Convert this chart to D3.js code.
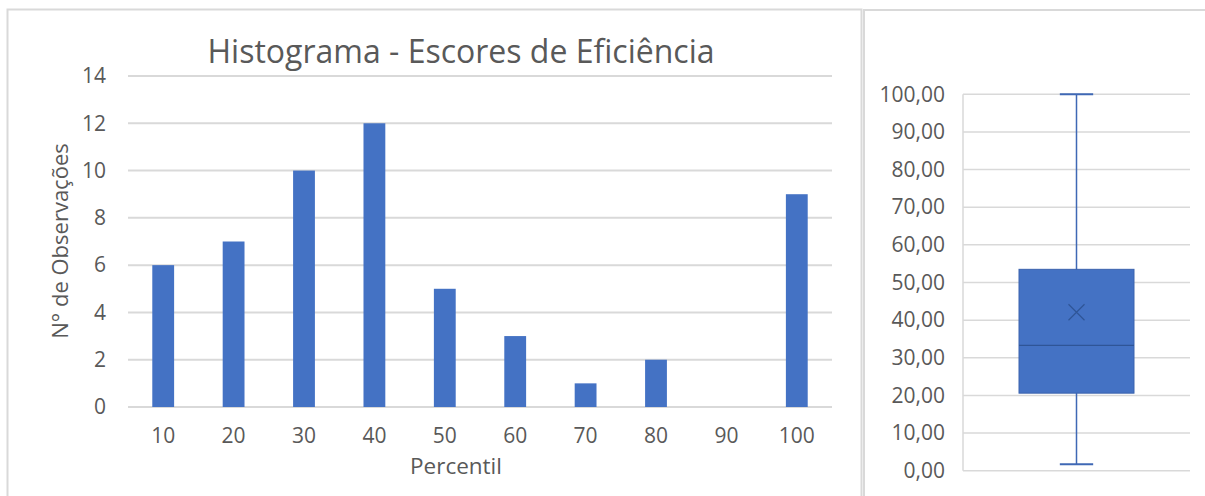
<!DOCTYPE html>
<html>
<head>
<meta charset="utf-8">
<script src="https://cdn.jsdelivr.net/npm/d3@7"></script>
<style>
	body { margin: 0; background: #fff; }
	text { font-family: "Open Sans", "Noto Sans", sans-serif; fill: #595959; }
</style>
</head>
<body>
<div id="chart"></div>
<script>
// Histogram data
const percentis = ["10", "20", "30", "40", "50", "60", "70", "80", "90", "100"];
const observacoes = [6, 7, 10, 12, 5, 3, 1, 2, 0, 9];
const histTicks = [0, 2, 4, 6, 8, 10, 12, 14];

// Box plot data (efficiency scores)
const boxCategory = ["Escores"];
const boxStats = [{ min: 1.7, q1: 20.6, median: 33.3, q3: 53.5, max: 100, mean: 42.1 }];
const boxTicks = [0, 10, 20, 30, 40, 50, 60, 70, 80, 90, 100];

const width = 1205;
const height = 496;
const blue = "#4472c4";
const grid = "#d9d9d9";

const svg = d3
	.select("#chart")
	.append("svg")
	.attr("width", width)
	.attr("height", height);

// Chart frames
svg
	.append("rect")
	.attr("x", 7.5)
	.attr("y", 9.5)
	.attr("width", 854)
	.attr("height", 520)
	.attr("fill", "none")
	.attr("stroke", grid)
	.attr("stroke-width", 2);

svg
	.append("rect")
	.attr("x", 864)
	.attr("y", 10)
	.attr("width", 400)
	.attr("height", 520)
	.attr("fill", "none")
	.attr("stroke", grid)
	.attr("stroke-width", 2);

// ---------- Histogram ----------
const x = d3
	.scaleBand()
	.domain(percentis)
	.range([128, 832])
	.paddingInner(0.69)
	.paddingOuter(0.345);

const y = d3.scaleLinear().domain([0, 14]).range([407, 76]);

const hist = svg.append("g");

hist
	.append("g")
	.selectAll("line")
	.data(histTicks)
	.enter()
	.append("line")
	.attr("x1", 128)
	.attr("x2", 832)
	.attr("y1", (d) => y(d))
	.attr("y2", (d) => y(d))
	.attr("stroke", grid)
	.attr("stroke-width", 2);

hist
	.append("g")
	.selectAll("rect")
	.data(observacoes)
	.enter()
	.append("rect")
	.attr("x", (d, i) => x(percentis[i]))
	.attr("y", (d) => y(d))
	.attr("width", x.bandwidth())
	.attr("height", (d) => y(0) - y(d))
	.attr("fill", blue);

// Y axis labels
const yAxis = hist
	.append("g")
	.attr("transform", "translate(106,0)")
	.call(d3.axisLeft(y).tickValues(histTicks).tickSize(0).tickPadding(0));
yAxis.select(".domain").remove();
yAxis.selectAll("text").style("font-size", "21px").attr("fill", "#595959");

// X axis labels
const xAxis = hist
	.append("g")
	.attr("transform", "translate(0,428)")
	.call(d3.axisBottom(x).tickSize(0).tickPadding(0));
xAxis.select(".domain").remove();
xAxis.selectAll("text").style("font-size", "21px").attr("fill", "#595959");

hist
	.append("text")
	.attr("x", 461)
	.attr("y", 63)
	.attr("text-anchor", "middle")
	.style("font-size", "32px")
	.text("Histograma - Escores de Eficiência");

hist
	.append("text")
	.attr("x", 456)
	.attr("y", 474)
	.attr("text-anchor", "middle")
	.style("font-size", "22.5px")
	.text("Percentil");

hist
	.append("text")
	.attr("transform", "translate(68,241) rotate(-90)")
	.attr("text-anchor", "middle")
	.style("font-size", "22px")
	.text("N° de Observações");

// ---------- Box plot ----------
const bx = d3
	.scaleBand()
	.domain(boxCategory)
	.range([963, 1190])
	.paddingInner(0)
	.paddingOuter(0.487);

const by = d3.scaleLinear().domain([0, 100]).range([470.7, 94.3]);

const box = svg.append("g");

box
	.append("g")
	.selectAll("line")
	.data(boxTicks)
	.enter()
	.append("line")
	.attr("x1", 963)
	.attr("x2", 1190)
	.attr("y1", (d) => by(d))
	.attr("y2", (d) => by(d))
	.attr("stroke", grid)
	.attr("stroke-width", 1.5);

box
	.append("line")
	.attr("x1", 963)
	.attr("x2", 963)
	.attr("y1", by(0))
	.attr("y2", by(100))
	.attr("stroke", grid)
	.attr("stroke-width", 1.5);

const byFormat = (d) => d3.format(".2f")(d).replace(".", ",");
const boxAxis = box
	.append("g")
	.attr("transform", "translate(945,0)")
	.call(d3.axisLeft(by).tickValues(boxTicks).tickFormat(byFormat).tickSize(0).tickPadding(0));
boxAxis.select(".domain").remove();
boxAxis.selectAll("text").style("font-size", "21px").attr("fill", "#595959");

const items = box
	.selectAll("g.item")
	.data(boxStats)
	.enter()
	.append("g")
	.attr("class", "item");

const cx = (i) => bx(boxCategory[i]) + bx.bandwidth() / 2;
const capHalf = bx.bandwidth() * 0.145;

// whiskers
items
	.append("line")
	.attr("x1", (d, i) => cx(i))
	.attr("x2", (d, i) => cx(i))
	.attr("y1", (d) => by(d.max))
	.attr("y2", (d) => by(d.min))
	.attr("stroke", "#3f68b5")
	.attr("stroke-width", 1.5);

["max", "min"].forEach((k) => {
	items
		.append("line")
		.attr("x1", (d, i) => cx(i) - capHalf)
		.attr("x2", (d, i) => cx(i) + capHalf)
		.attr("y1", (d) => by(d[k]))
		.attr("y2", (d) => by(d[k]))
		.attr("stroke", "#3f68b5")
		.attr("stroke-width", 2);
});

// box
items
	.append("rect")
	.attr("x", (d, i) => bx(boxCategory[i]))
	.attr("width", bx.bandwidth())
	.attr("y", (d) => by(d.q3))
	.attr("height", (d) => by(d.q1) - by(d.q3))
	.attr("fill", blue)
	.attr("stroke", "#3a63ad")
	.attr("stroke-width", 1);

// median
items
	.append("line")
	.attr("x1", (d, i) => bx(boxCategory[i]))
	.attr("x2", (d, i) => bx(boxCategory[i]) + bx.bandwidth())
	.attr("y1", (d) => by(d.median))
	.attr("y2", (d) => by(d.median))
	.attr("stroke", "#2f5597")
	.attr("stroke-width", 1.2);

// mean marker
items
	.append("path")
	.attr("d", (d, i) => {
		const mx = cx(i);
		const my = by(d.mean);
		const s = 8;
		return `M${mx - s},${my - s}L${mx + s},${my + s}M${mx - s},${my + s}L${mx + s},${my - s}`;
	})
	.attr("stroke", "#2f5597")
	.attr("stroke-width", 1.2)
	.attr("fill", "none");
</script>
</body>
</html>
